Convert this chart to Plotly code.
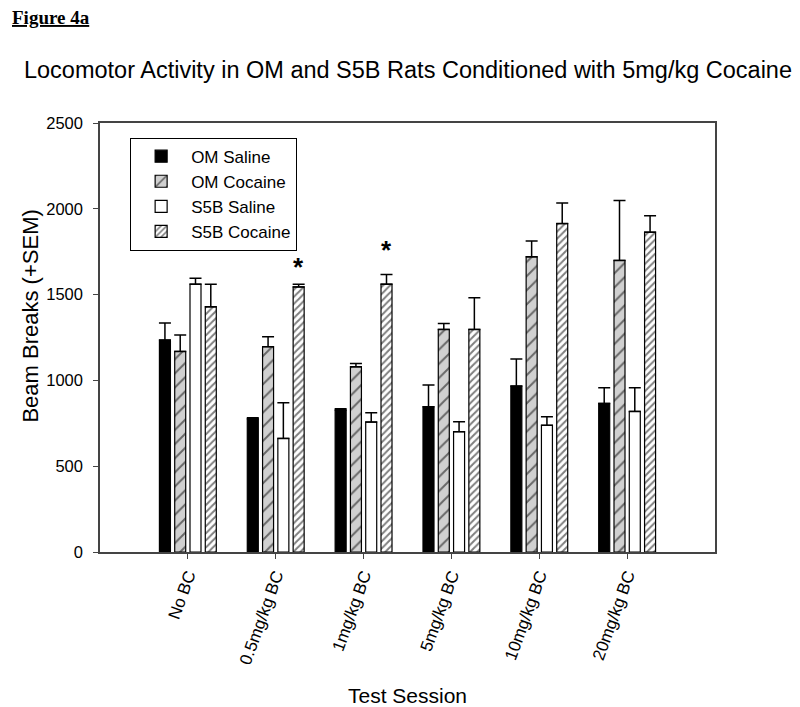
import plotly.graph_objects as go

categories = ["No BC", "0.5mg/kg BC", "1mg/kg BC", "5mg/kg BC", "10mg/kg BC", "20mg/kg BC"]

om_saline = [1235, 776, 827, 846, 967, 866]
om_saline_sem = [100, 6, 8, 127, 157, 91]
om_cocaine = [1169, 1196, 1079, 1297, 1720, 1699]
om_cocaine_sem = [95, 58, 20, 35, 93, 349]
s5b_saline = [1561, 662, 757, 701, 738, 819]
s5b_saline_sem = [35, 208, 54, 58, 50, 138]
s5b_cocaine = [1429, 1545, 1561, 1297, 1914, 1864]
s5b_cocaine_sem = [132, 16, 56, 184, 120, 95]

star_groups = [1, 2]
star_y = [1660, 1760]

y_ticks = [0, 500, 1000, 1500, 2000, 2500]

FONT = "Liberation Sans, Arial, sans-serif"

series = [
    ("OM Saline", om_saline, om_saline_sem, dict(color="black")),
    ("OM Cocaine", om_cocaine, om_cocaine_sem,
     dict(color="#d0d0d0", pattern=dict(shape="/", size=10, solidity=0.2,
                                        fgcolor="black", bgcolor="#d0d0d0"))),
    ("S5B Saline", s5b_saline, s5b_saline_sem, dict(color="white")),
    ("S5B Cocaine", s5b_cocaine, s5b_cocaine_sem,
     dict(color="white", pattern=dict(shape="/", size=5, solidity=0.4,
                                      fgcolor="black", bgcolor="white"))),
]

fig = go.Figure()
for name, vals, sem, mk in series:
    mk = dict(mk)
    mk["line"] = dict(color="black", width=1.2)
    fig.add_trace(go.Bar(
        name=name, x=list(range(len(categories))), y=vals,
        marker=mk,
        error_y=dict(type="data", array=sem, arrayminus=[0] * len(sem),
                     symmetric=False, color="black", thickness=1.5, width=6),
    ))

bar_pitch = (1 - 0.304) / 4
for g, yv in zip(star_groups, star_y):
    fig.add_annotation(x=g + 1.5 * bar_pitch, y=yv, xref="x", yref="y",
                       text="<b>*</b>", showarrow=False,
                       font=dict(family=FONT, size=26, color="black"))

fig.add_annotation(x=-0.146, y=1.245, xref="paper", yref="paper", xanchor="left",
                   yanchor="middle", text="<b><u>Figure 4a</u></b>", showarrow=False,
                   font=dict(family="Liberation Serif, Times New Roman, serif",
                             size=19, color="black"))

fig.add_annotation(x=-0.113, y=0.55, xref="paper", yref="paper", xanchor="center",
                   yanchor="middle", textangle=-90, text="Beam Breaks (+SEM)",
                   showarrow=False, font=dict(family=FONT, size=22, color="black"))

fig.update_layout(
    width=800, height=707,
    margin=dict(l=92, r=93, t=115, b=163),
    paper_bgcolor="white", plot_bgcolor="white",
    barmode="group", bargap=0.304, bargroupgap=0.28,
    font=dict(family=FONT, color="black"),
    title=dict(text="Locomotor Activity in OM and S5B Rats Conditioned with 5mg/kg Cocaine",
               x=0.5, xref="container", xanchor="center", y=1 - 62 / 707, yanchor="middle",
               font=dict(size=23.5, family=FONT, color="black")),
    legend=dict(x=0.049, y=0.966, xanchor="left", yanchor="top",
                bordercolor="black", borderwidth=1, bgcolor="white",
                font=dict(size=17, family=FONT), tracegroupgap=0,
                itemwidth=50),
    xaxis=dict(range=[-1, 6], tickmode="array",
               tickvals=list(range(len(categories))), ticktext=categories,
               tickangle=-70, ticks="outside", ticklen=5, tickcolor="#444",
               showline=True, linecolor="#444", linewidth=1.5, mirror=True,
               showgrid=False, zeroline=False,
               tickfont=dict(size=17, family=FONT),
               title=dict(text="Test Session", font=dict(size=21, family=FONT),
                          standoff=22)),
    yaxis=dict(range=[0, 2500], tickvals=y_ticks, ticks="outside", ticklen=5,
               tickcolor="#444", showline=True, linecolor="#444", linewidth=1.5,
               mirror=True, showgrid=False, zeroline=False,
               ticklabelstandoff=7,
               tickfont=dict(size=16.5, family=FONT)),
)

fig.write_html("out.html")
